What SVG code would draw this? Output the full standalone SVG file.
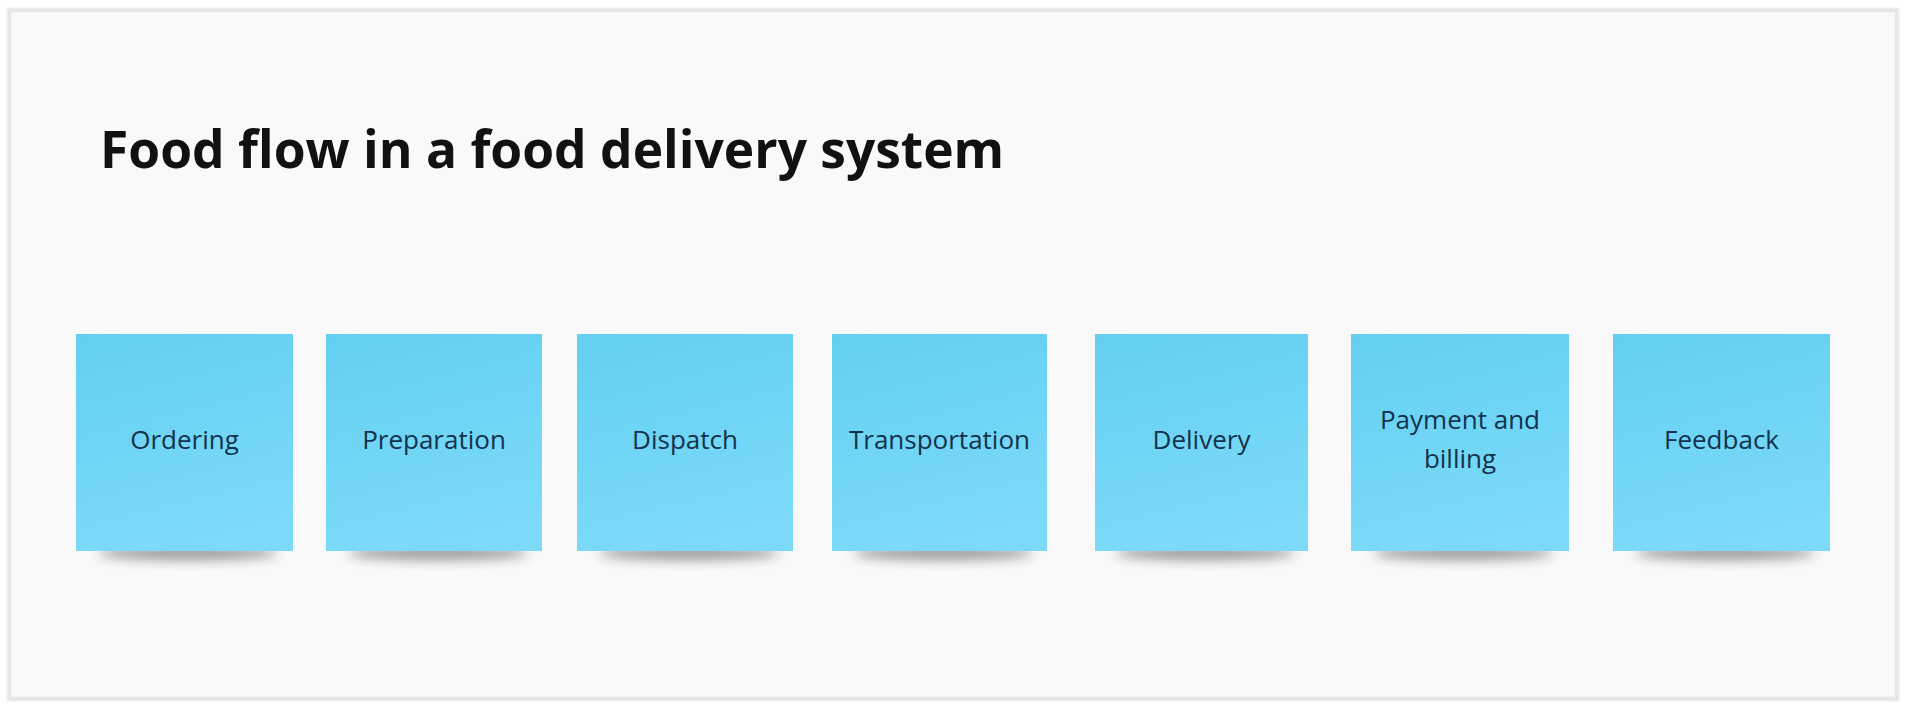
<svg xmlns="http://www.w3.org/2000/svg" width="1912" height="720" viewBox="0 0 1912 720">
  <style>
    .title { font-family: "Open Sans", "Liberation Sans", sans-serif; font-weight: 700; font-size: 51.5px; fill: #111111; }
    .label { font-family: "Open Sans", "Liberation Sans", sans-serif; font-size: 26px; fill: #12324d; text-anchor: middle; }
    .note { fill: url(#noteGrad); }
    .shadow { fill: #222222; opacity: 0.45; filter: url(#blur); }
  </style>
  <defs>
    <linearGradient id="noteGrad" x1="0" y1="0" x2="0.25" y2="1">
      <stop offset="0" stop-color="#62cff1"/>
      <stop offset="1" stop-color="#7cdaf8"/>
    </linearGradient>
    <filter id="blur" x="-20%" y="-300%" width="140%" height="700%">
      <feGaussianBlur stdDeviation="6"/>
    </filter>
    <filter id="frameShadow" x="-2%" y="-2%" width="104%" height="104%">
      <feGaussianBlur stdDeviation="1.2"/>
    </filter>
  </defs>

  <rect x="0" y="0" width="1912" height="720" fill="#ffffff"/>
  <g id="frame">
    <rect x="9" y="10" width="1888" height="689" fill="none" stroke="#e4e4e4" stroke-width="4" filter="url(#frameShadow)"/>
    <rect x="10" y="11" width="1886" height="687" fill="#f9f9f9" stroke="#e6e6e6" stroke-width="2.5"/>
  </g>

  <g id="title">
    <text class="title" x="100" y="168">Food flow in a food delivery system</text>
  </g>

  <g id="connectors"/>

  <g id="node-ordering">
    <ellipse class="shadow" cx="188" cy="553" rx="90" ry="7"/>
    <rect class="note" x="76" y="334" width="217" height="217"/>
    <text class="label" x="184.5" y="449">Ordering</text>
  </g>

  <g id="node-preparation">
    <ellipse class="shadow" cx="438" cy="553" rx="90" ry="7"/>
    <rect class="note" x="326" y="334" width="216" height="217"/>
    <text class="label" x="434" y="449">Preparation</text>
  </g>

  <g id="node-dispatch">
    <ellipse class="shadow" cx="689" cy="553" rx="90" ry="7"/>
    <rect class="note" x="577" y="334" width="216" height="217"/>
    <text class="label" x="685" y="449">Dispatch</text>
  </g>

  <g id="node-transportation">
    <ellipse class="shadow" cx="943" cy="553" rx="90" ry="7"/>
    <rect class="note" x="832" y="334" width="215" height="217"/>
    <text class="label" x="939.5" y="449">Transportation</text>
  </g>

  <g id="node-delivery">
    <ellipse class="shadow" cx="1205" cy="553" rx="90" ry="7"/>
    <rect class="note" x="1095" y="334" width="213" height="217"/>
    <text class="label" x="1201.5" y="449">Delivery</text>
  </g>

  <g id="node-payment">
    <ellipse class="shadow" cx="1463" cy="553" rx="90" ry="7"/>
    <rect class="note" x="1351" y="334" width="218" height="217"/>
    <text class="label" x="1460" y="429">Payment and</text>
    <text class="label" x="1460" y="468">billing</text>
  </g>

  <g id="node-feedback">
    <ellipse class="shadow" cx="1725" cy="553" rx="90" ry="7"/>
    <rect class="note" x="1613" y="334" width="217" height="217"/>
    <text class="label" x="1721.5" y="449">Feedback</text>
  </g>
</svg>
